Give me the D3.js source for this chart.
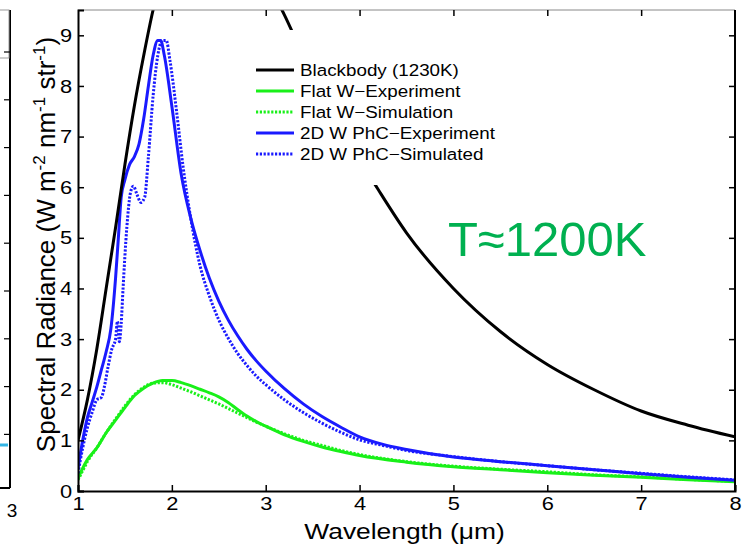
<!DOCTYPE html>
<html lang="en">
<head>
<meta charset="UTF-8">
<title>Spectral Radiance</title>
<style>
    body { margin: 0; background: #fff; }
    svg text { font-family: "Liberation Sans", Arial, sans-serif; fill: #000; }
</style>
</head>
<body>
<div id="chart"></div>
<script src="https://d3js.org/d3.v7.min.js"></script>
<script>
// values: [wavelength (um), radiance]
const blackbody = [[1.0,1.0],[1.1,1.8],[1.2,2.8],[1.3,4.0],[1.4,5.2],[1.5,6.45],[1.6,7.6],[1.7,8.6],[1.8,9.5],[1.9,10.2],
    [2.1,11.0],[2.4,11.5],[2.7,11.1],[3.0,10.1],[3.2,9.4],[3.4,8.6],[3.6,7.9],[3.8,7.2],[4.0,6.55],[4.2,5.95],[4.5,5.1],
    [5.0,4.0],[5.5,3.15],[6.0,2.5],[6.5,2.0],[7.0,1.58],[7.5,1.3],[8.0,1.07]];
const flatExp = [[1.0,0.25],[1.05,0.45],[1.1,0.62],[1.2,0.85],[1.3,1.15],[1.4,1.4],[1.5,1.65],[1.6,1.88],[1.7,2.03],[1.8,2.13],
    [1.9,2.18],[2.0,2.18],[2.1,2.14],[2.2,2.08],[2.3,2.01],[2.4,1.94],[2.5,1.86],[2.6,1.75],[2.7,1.61],[2.8,1.48],[2.9,1.37],
    [3.0,1.28],[3.2,1.11],[3.4,0.98],[3.6,0.87],[3.8,0.78],[4.0,0.7],[4.5,0.57],[5.0,0.48],[5.5,0.42],[6.0,0.36],[6.5,0.31],
    [7.0,0.27],[7.5,0.22],[8.0,0.18]];
const flatSim = [[1.0,0.22],[1.05,0.4],[1.1,0.58],[1.2,0.85],[1.3,1.15],[1.4,1.42],[1.5,1.68],[1.6,1.9],[1.7,2.05],[1.8,2.13],
    [1.9,2.14],[2.0,2.1],[2.1,2.03],[2.2,1.96],[2.3,1.88],[2.4,1.8],[2.5,1.72],[2.6,1.63],[2.7,1.54],[2.8,1.45],[2.9,1.36],
    [3.0,1.28],[3.2,1.13],[3.4,1.0],[3.6,0.9],[3.8,0.8],[4.0,0.72],[4.5,0.58],[5.0,0.49],[5.5,0.43],[6.0,0.38],[6.5,0.32],
    [7.0,0.28],[7.5,0.23],[8.0,0.19]];
const phcExp = [[1.0,0.45],[1.05,1.0],[1.1,1.45],[1.15,1.75],[1.2,2.05],[1.25,2.4],[1.3,2.75],[1.35,3.2],[1.4,4.2],[1.43,5.0],
    [1.46,5.8],[1.5,6.15],[1.55,6.45],[1.6,6.6],[1.65,6.85],[1.7,7.35],[1.75,8.0],[1.8,8.6],[1.85,8.9],[1.88,8.9],[1.92,8.6],
    [2.0,7.6],[2.1,6.25],[2.2,5.4],[2.3,4.75],[2.4,4.2],[2.5,3.75],[2.6,3.38],[2.7,3.07],[2.8,2.8],[2.9,2.57],[3.0,2.37],
    [3.2,2.02],[3.4,1.72],[3.6,1.47],[3.8,1.26],[4.0,1.07],[4.25,0.92],[4.5,0.82],[5.0,0.67],[5.5,0.58],[6.0,0.5],
    [6.5,0.42],[7.0,0.34],[7.5,0.27],[8.0,0.21]];
const phcSim = [[1.0,0.35],[1.05,0.85],[1.1,1.25],[1.15,1.55],[1.2,1.8],[1.25,1.85],[1.28,2.05],[1.32,2.45],[1.36,2.8],[1.4,3.0],
    [1.42,3.35],[1.44,2.95],[1.46,3.3],[1.48,4.0],[1.52,5.2],[1.56,5.9],[1.59,6.02],[1.63,5.85],[1.67,5.7],[1.71,5.8],[1.75,6.6],
    [1.8,7.8],[1.85,8.6],[1.9,8.9],[1.94,8.9],[1.98,8.5],[2.05,7.5],[2.12,6.4],[2.2,5.4],[2.3,4.45],[2.4,3.85],[2.5,3.38],
    [2.6,3.02],[2.7,2.72],[2.8,2.48],[2.9,2.27],[3.0,2.1],[3.2,1.8],[3.4,1.55],[3.6,1.34],[3.8,1.16],[4.0,1.01],[4.25,0.9],
    [4.5,0.8],[5.0,0.68],[5.5,0.58],[6.0,0.5],[6.5,0.42],[7.0,0.35],[7.5,0.28],[8.0,0.22]];

const xTicks = [1, 2, 3, 4, 5, 6, 7, 8];
const yTicks = [0, 1, 2, 3, 4, 5, 6, 7, 8, 9];
const legendNames = ["Blackbody (1230K)", "Flat W\u2212Experiment", "Flat W\u2212Simulation",
    "2D W PhC\u2212Experiment", "2D W PhC\u2212Simulated"];

const W = 750, H = 545;
const margin = { top: 10, right: 15, bottom: 54, left: 78 };
const width = W - margin.left - margin.right,
      height = H - margin.top - margin.bottom;

const svg = d3.select("#chart").append("svg")
    .attr("width", W)
    .attr("height", H);

// piece of the neighbouring panel cut off at the left edge
const side = svg.append("g").attr("stroke", "#000");
side.append("line").attr("x1", 10).attr("x2", 10).attr("y1", 10).attr("y2", 488).attr("stroke-width", 2);
side.append("line").attr("x1", 0).attr("x2", 10).attr("y1", 488).attr("y2", 488).attr("stroke-width", 2);
side.append("rect").attr("x", -2).attr("y", 10).attr("width", 11).attr("height", 48)
    .attr("fill", "none").attr("stroke", "#999");
d3.range(9).forEach(i => {
    side.append("line").attr("x1", 4).attr("x2", 10)
        .attr("y1", 52 + i * 47.8).attr("y2", 52 + i * 47.8).attr("stroke-width", 1.2);
});
side.append("line").attr("x1", 0).attr("x2", 8).attr("y1", 445).attr("y2", 445)
    .attr("stroke", "#33b5e5").attr("stroke-width", 3);
svg.append("text").attr("x", 12).attr("y", 517).attr("text-anchor", "middle")
    .attr("font-size", 19).text("3");

const x = d3.scaleLinear().domain([1, 8]).range([0, width]);
const y = d3.scaleLinear().domain([0, 9.5]).range([height, 0]);

const g = svg.append("g").attr("transform", `translate(${margin.left},${margin.top})`);

g.append("clipPath").attr("id", "plot-clip")
    .append("rect").attr("width", width).attr("height", height);

const line = d3.line()
    .x(d => x(d[0]))
    .y(d => y(d[1]))
    .curve(d3.curveMonotoneX);

const series = [
    { data: blackbody, color: "#000000", dash: null },
    { data: flatExp, color: "#19f019", dash: null },
    { data: flatSim, color: "#19f019", dash: "2.2 1.6" },
    { data: phcExp, color: "#1a1aff", dash: null },
    { data: phcSim, color: "#1a1aff", dash: "2.2 1.6" }
];

const lines = g.append("g").attr("clip-path", "url(#plot-clip)");
[1, 2, 3, 4, 0].forEach(i => {
    const s = series[i];
    lines.append("path")
        .attr("d", line(s.data))
        .attr("fill", "none")
        .attr("stroke", s.color)
        .attr("stroke-width", 3)
        .attr("stroke-dasharray", s.dash);
});

// legend (white box hides the curve behind it)
const legend = svg.append("g").attr("transform", "translate(248,30)");
legend.append("rect").attr("width", 262).attr("height", 155).attr("fill", "#fff");
legendNames.forEach((name, i) => {
    const row = legend.append("g").attr("transform", `translate(0,${40 + i * 21})`);
    row.append("line")
        .attr("x1", 8).attr("x2", 46)
        .attr("stroke", series[i].color)
        .attr("stroke-width", 3)
        .attr("stroke-dasharray", series[i].dash);
    row.append("text")
        .attr("transform", "translate(52,6) scale(1.14,1)")
        .attr("font-size", 16.5)
        .text(name);
});

// frame: top edge thin grey, the rest black
g.append("line").attr("x1", 0).attr("x2", width).attr("y1", 0).attr("y2", 0)
    .attr("stroke", "#888").attr("stroke-width", 1);
g.append("line").attr("x1", width).attr("x2", width).attr("y1", 0).attr("y2", height)
    .attr("stroke", "#000").attr("stroke-width", 2);

// bottom axis (ticks inside)
const xAxis = g.append("g")
    .attr("transform", `translate(0,${height})`)
    .call(d3.axisBottom(x).tickValues(xTicks).tickSize(-6).tickPadding(6).tickFormat(d3.format("d")));
xAxis.select(".domain").attr("stroke-width", 2);
xAxis.selectAll(".tick line").attr("stroke-width", 1.5);
xAxis.selectAll(".tick text")
    .attr("font-size", 19)
    .attr("transform", "scale(1.15,1)");

// top ticks
g.append("g")
    .call(d3.axisTop(x).tickValues(xTicks.slice(1, -1)).tickSize(-6).tickFormat(""))
    .call(a => a.select(".domain").remove())
    .selectAll(".tick line").attr("stroke-width", 1.5);

// left axis
const yAxis = g.append("g")
    .call(d3.axisLeft(y).tickValues(yTicks).tickSize(-6).tickPadding(6).tickFormat(d3.format("d")));
yAxis.select(".domain").attr("stroke-width", 2);
yAxis.selectAll(".tick line").attr("stroke-width", 1.5);
yAxis.selectAll(".tick text")
    .attr("font-size", 19)
    .attr("transform", "translate(1,0) scale(1.15,1)");

// right ticks
g.append("g")
    .attr("transform", `translate(${width},0)`)
    .call(d3.axisRight(y).tickValues(yTicks.slice(1)).tickSize(-6).tickFormat(""))
    .call(a => a.select(".domain").remove())
    .selectAll(".tick line").attr("stroke-width", 1.5);

// axis titles
svg.append("text")
    .attr("transform", `translate(${margin.left + width / 2 - 2},539) scale(1.2,1)`)
    .attr("text-anchor", "middle")
    .attr("font-size", 22)
    .text("Wavelength (\u03bcm)");

const yTitle = svg.append("text")
    .attr("transform", `translate(55,${margin.top + height / 2 - 6}) rotate(-90)`)
    .attr("text-anchor", "middle")
    .attr("font-size", 26);
yTitle.append("tspan").text("Spectral Radiance (W m");
yTitle.append("tspan").attr("dy", -10).attr("font-size", 17).text("-2");
yTitle.append("tspan").attr("dy", 10).text(" nm");
yTitle.append("tspan").attr("dy", -10).attr("font-size", 17).text("-1");
yTitle.append("tspan").attr("dy", 10).text(" str");
yTitle.append("tspan").attr("dy", -10).attr("font-size", 17).text("-1");
yTitle.append("tspan").attr("dy", 10).text(")");

// temperature annotation
svg.append("text")
    .attr("x", 448).attr("y", 256)
    .attr("font-size", 49)
    .style("fill", "#00b050")
    .text("T\u22481200K");
</script>
</body>
</html>
